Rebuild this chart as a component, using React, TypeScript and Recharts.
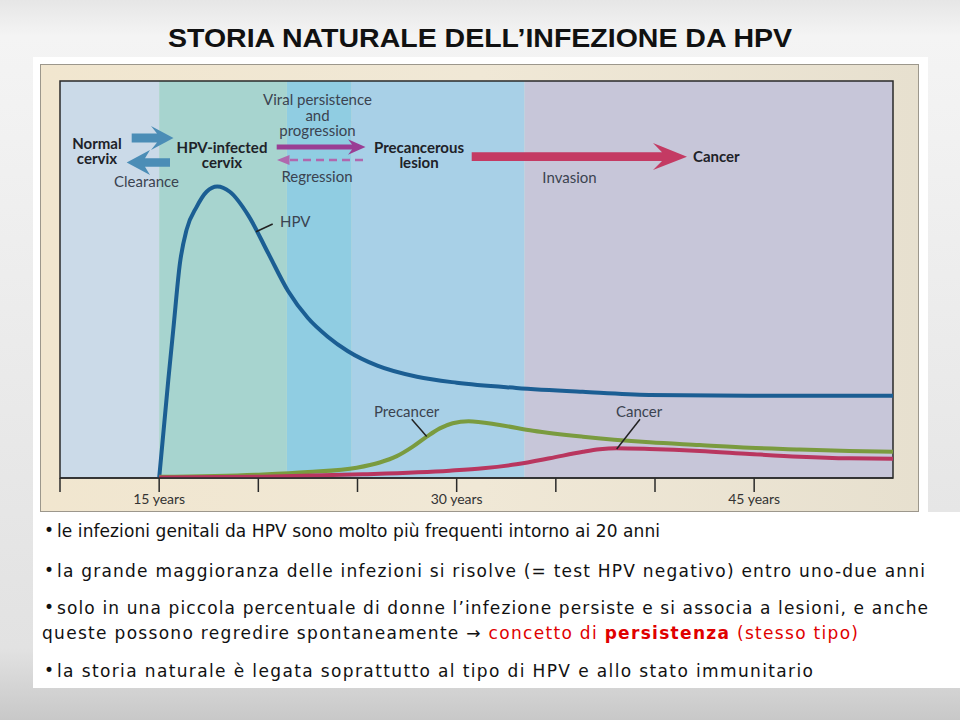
import React from 'react';
import { ComposedChart, Line, XAxis, YAxis, ReferenceArea } from 'recharts';

// ---------- data ----------
const tickYears = [10, 15, 20, 25, 30, 35, 40, 45];
const labeledYears = [15, 30, 45];

const hpvX = [15, 15.46, 15.71, 16.05, 16.38, 16.89, 17.39, 17.93, 18.56, 19.5, 20.5, 21.5, 22.5, 23.5, 24.5, 26, 28, 30, 33.0, 36.35, 39.7, 44.77, 52];
const hpvY = [0, 24.7, 37.3, 54.2, 62.5, 68.3, 72.1, 73.4, 72.1, 66.1, 56.6, 47.1, 40.3, 35.6, 32.0, 28.3, 25.5, 24.0, 22.7, 21.7, 20.9, 20.7, 20.7];

const precancerX = [15, 20.23, 22.5, 24.96, 26.12, 26.98, 27.79, 28.49, 29.15, 29.8, 30.6, 32.17, 33.85, 36.37, 39.73, 42.25, 44.77, 47.29, 49.8, 52];
const precancerY = [0.3, 0.9, 1.5, 2.6, 3.9, 5.5, 7.9, 10.4, 12.5, 13.8, 14.3, 13.35, 11.9, 10.4, 9.0, 8.3, 7.6, 7.2, 6.8, 6.6];

const cancerX = [15, 20.23, 25.27, 29.65, 31.33, 33.01, 34.69, 36.37, 37.21, 38.05, 39.73, 42.25, 44.77, 47.29, 49.8, 52];
const cancerY = [0.1, 0.33, 0.93, 1.84, 2.44, 3.45, 4.96, 6.62, 7.23, 7.48, 7.3, 6.8, 6.05, 5.37, 4.96, 4.86];

const stageStart = [10, 15, 21.44, 24.71, 33.43];
const stageEnd = [15, 21.44, 24.71, 33.43, 52];

const titleText = 'STORIA NATURALE DELL\u2019INFEZIONE DA HPV';
const bullet1 = 'le infezioni genitali da HPV sono molto più frequenti intorno ai 20 anni';
const bullet2 = 'la grande maggioranza delle infezioni si risolve (= test HPV negativo) entro uno-due anni';
const bullet3 = 'solo in una piccola percentuale di donne l\u2019infezione persiste e si associa a lesioni, e anche';
const bullet3b = 'queste possono regredire spontaneamente ';
const bullet3c = 'concetto di ';
const bullet3d = 'persistenza';
const bullet3e = ' (stesso tipo)';
const bullet4 = 'la storia naturale è legata soprattutto al tipo di HPV e allo stato immunitario';

// ---------- styles ----------
const stageColors = ['#cbdae8', '#a7d4cf', '#90cde2', '#a8d0e7', '#c7c6d9'];
const F = 'Lato, "Open Sans", sans-serif';
const BF = '"DejaVu Sans", sans-serif';

const toPoints = (xs: number[], ys: number[]) => xs.map((x, i) => ({ x, y: ys[i] }));
const hpvData = toPoints(hpvX, hpvY);
const precancerData = toPoints(precancerX, precancerY);
const cancerData = toPoints(cancerX, cancerY);

const boldC = '#1e2228';
const regC = '#3b4350';

export default function App() {
  return (
    <div style={{ position: 'absolute', left: 0, top: 0, width: 960, height: 720, overflow: 'hidden' }}>
      <svg width={960} height={720} style={{ position: 'absolute', left: 0, top: 0 }}>
        <defs>
          <linearGradient id="pg" x1="0" y1="0" x2="0" y2="1">
            <stop offset="0" stopColor="#e6e6e6" />
            <stop offset="0.05" stopColor="#f4f4f4" />
            <stop offset="0.9" stopColor="#e2e2e2" />
            <stop offset="1" stopColor="#c8c8c8" />
          </linearGradient>
          <linearGradient id="bg" x1="0" y1="0" x2="1" y2="0">
            <stop offset="0" stopColor="#f1e6cf" />
            <stop offset="0.5" stopColor="#f0e8d6" />
            <stop offset="1" stopColor="#e7e0cf" />
          </linearGradient>
        </defs>
        <rect x={0} y={0} width={960} height={720} fill="url(#pg)" />
        <rect x={33} y={57} width={895} height={456} fill="#ffffff" />
        <rect x={33} y={512} width={927} height={176} fill="#ffffff" />
        <rect x={40.5} y={64.5} width={878} height={447} fill="url(#bg)" stroke="#9c978c" strokeWidth={1} />
        <text x={480} y={47} textAnchor="middle" fontFamily='"Liberation Sans", Arial, sans-serif' fontWeight="bold" fontSize={26} fill="#111" textLength={624} lengthAdjust="spacingAndGlyphs">{titleText}</text>

        <g fontFamily={BF} fontSize={17} fill="#111">
          <text x={44} y={536}>•</text>
          <text x={57} y={537} textLength={603} lengthAdjust="spacing">{bullet1}</text>
          <text x={44} y={576}>•</text>
          <text x={57} y={577} textLength={868} lengthAdjust="spacing">{bullet2}</text>
          <text x={44} y={613}>•</text>
          <text x={57} y={614} textLength={871} lengthAdjust="spacing">{bullet3}</text>
          <text x={42} y={639} textLength={816} lengthAdjust="spacing">
            <tspan>{bullet3b}</tspan>
            <tspan>{'\u2192 '}</tspan>
            <tspan fill="#e00000">{bullet3c}</tspan>
            <tspan fill="#e00000" fontWeight="bold">{bullet3d}</tspan>
            <tspan fill="#e00000">{bullet3e}</tspan>
          </text>
          <text x={44} y={676}>•</text>
          <text x={57} y={677} textLength={756} lengthAdjust="spacing">{bullet4}</text>
        </g>
      </svg>

      <div style={{ position: 'absolute', left: 0, top: 0 }}>
        <ComposedChart width={960} height={720} margin={{ top: 81, right: 67, bottom: 212, left: 60 }}>
          <XAxis
            type="number"
            dataKey="x"
            domain={[10, 52]}
            allowDataOverflow
            ticks={tickYears}
            interval={0}
            height={30}
            tickSize={14}
            tickFormatter={(v: number) => (labeledYears.includes(v) ? `${v} years` : '')}
            tick={{ fill: '#333', fontSize: 14, fontFamily: F }}
            axisLine={{ stroke: '#2a2a2a', strokeWidth: 1.5 }}
            tickLine={{ stroke: '#2a2a2a', strokeWidth: 1.5 }}
          />
          <YAxis type="number" domain={[0, 100]} hide width={0} allowDataOverflow />
          {stageStart.map((s, i) => (
            <ReferenceArea key={i} x1={s} x2={stageEnd[i]} y1={0} y2={100} fill={stageColors[i]} fillOpacity={1} stroke="none" />
          ))}
          <ReferenceArea x1={10} x2={52} y1={0} y2={100} fill="none" stroke="#2a2a2a" strokeWidth={1.5} />
          <Line data={hpvData} dataKey="y" type="monotone" stroke="#1b5e93" strokeWidth={4} dot={false} isAnimationActive={false} />
          <Line data={precancerData} dataKey="y" type="monotone" stroke="#7a9b3f" strokeWidth={4} dot={false} isAnimationActive={false} />
          <Line data={cancerData} dataKey="y" type="monotone" stroke="#b9365f" strokeWidth={4} dot={false} isAnimationActive={false} />
        </ComposedChart>
      </div>

      <svg width={960} height={720} style={{ position: 'absolute', left: 0, top: 0, pointerEvents: 'none' }}>
        <g fontFamily={F} fontSize={15}>
          <text x={97} y={148.5} textAnchor="middle" fontWeight="bold" fill={boldC}>Normal</text>
          <text x={97} y={163.5} textAnchor="middle" fontWeight="bold" fill={boldC}>cervix</text>
          <text x={222} y={152.5} textAnchor="middle" fontWeight="bold" fill={boldC}>HPV-infected</text>
          <text x={222} y={167.5} textAnchor="middle" fontWeight="bold" fill={boldC}>cervix</text>
          <text x={419} y={152.5} textAnchor="middle" fontWeight="bold" fill={boldC}>Precancerous</text>
          <text x={419} y={167.5} textAnchor="middle" fontWeight="bold" fill={boldC}>lesion</text>
          <text x={693} y={162} fontWeight="bold" fill={boldC}>Cancer</text>
          <text x={146.5} y={186.5} textAnchor="middle" fill={regC}>Clearance</text>
          <text x={317.5} y={105} textAnchor="middle" fill={regC}>Viral persistence</text>
          <text x={317.5} y={120.5} textAnchor="middle" fill={regC}>and</text>
          <text x={317.5} y={135.5} textAnchor="middle" fill={regC}>progression</text>
          <text x={317} y={181.5} textAnchor="middle" fill={regC}>Regression</text>
          <text x={569.5} y={182.5} textAnchor="middle" fill={regC}>Invasion</text>
          <text x={280} y={226.5} fill={regC}>HPV</text>
          <text x={374} y={417} fill={regC}>Precancer</text>
          <text x={616} y={417} fill={regC}>Cancer</text>
        </g>
        {/* arrows */}
        <polygon points="131.7,133.5 157,133.5 151,126 173.5,138 151,150 157,142.5 131.7,142.5" fill="#4b8db6" />
        <polygon points="170,158.3 145,158.3 150,150 126.7,162.5 150,175 145,166.7 170,166.7" fill="#4b8db6" />
        <polygon points="276.7,144.6 352,144.6 348,139.3 365.5,147 348,154.7 352,149.4 276.7,149.4" fill="#9a3d94" />
        <line x1={290} y1={160} x2={363} y2={160} stroke="#b068ae" strokeWidth={2.5} strokeDasharray="8 5" />
        <polygon points="277,160 289.5,155 289.5,165" fill="#b068ae" />
        <polygon points="471.7,152.3 662,152.3 653,143 687,156.7 653,170 662,161 471.7,161" fill="#c43a63" />
        {/* pointers */}
        <line x1={256} y1={231.7} x2={272.7} y2={224} stroke="#222" strokeWidth={1.5} />
        <line x1={411.7} y1={419.3} x2={426.7} y2={436.5} stroke="#222" strokeWidth={1.5} />
        <line x1={640} y1={419.3} x2={616.7} y2={449} stroke="#222" strokeWidth={1.5} />
      </svg>
    </div>
  );
}
